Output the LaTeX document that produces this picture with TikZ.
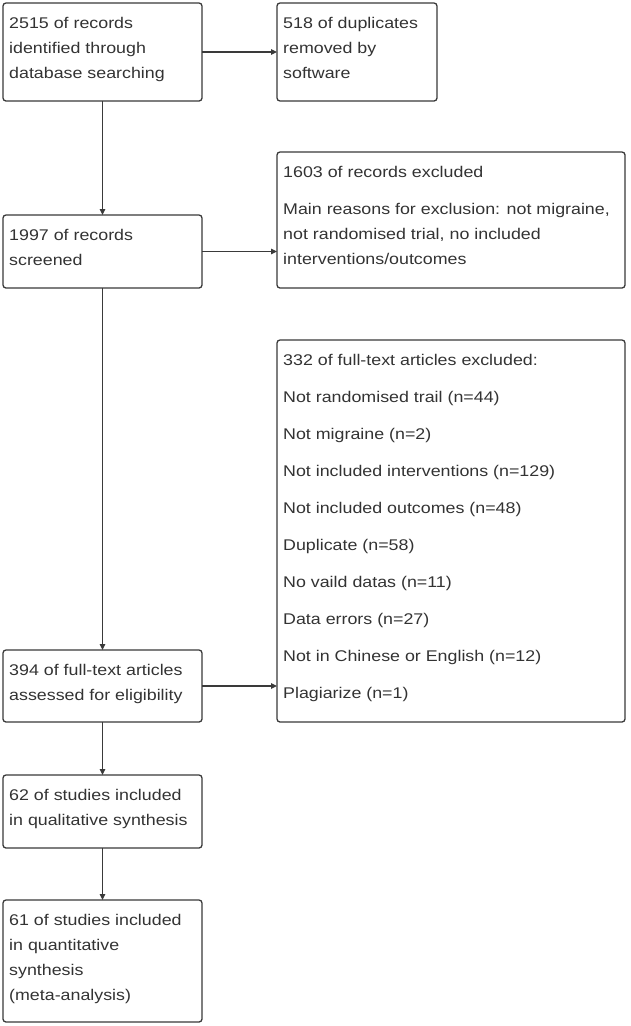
\documentclass[tikz,border=0pt]{standalone}
\usepackage{fontspec}
\setmainfont{Liberation Sans}[FakeStretch=1.15]
\usetikzlibrary{arrows.meta}
\definecolor{ln}{HTML}{3A3A3A}
\definecolor{tx}{HTML}{333333}
\newcommand{\prtext}[1]{\begin{tabular}[t]{@{}l@{}}#1\end{tabular}}
\begin{document}
\begin{tikzpicture}[x=1pt,y=-1pt,
  frame/.style={draw=ln, line width=1.3pt, rounded corners=3pt, anchor=north west, inner sep=0pt, outer sep=0pt},
  lbl/.style={anchor=base west, inner sep=0pt, text=tx, font=\fontsize{15.5}{25}\selectfont},
  arr/.style={draw=ln, line width=1.2pt, -{Triangle[length=6pt,width=5.5pt]}}]
\useasboundingbox[fill=white] (0,0) rectangle (631,1026);
\node[frame, minimum width=199pt, minimum height=98pt] (a) at (3,3) {};
\node[frame, minimum width=160pt, minimum height=98pt] (b) at (277,3) {};
\node[frame, minimum width=348pt, minimum height=136pt] (c) at (277,152) {};
\node[frame, minimum width=199pt, minimum height=73pt] (d) at (3,215) {};
\node[frame, minimum width=348pt, minimum height=382pt] (e) at (277,340) {};
\node[frame, minimum width=199pt, minimum height=72pt] (f) at (3,650) {};
\node[frame, minimum width=199pt, minimum height=73pt] (g) at (3,775) {};
\node[frame, minimum width=199pt, minimum height=122pt] (h) at (3,900) {};
\node[lbl] (ta) at ([shift={(6,25)}]a.north west) {\prtext{2515 of records\\identified through\\database searching}};
\node[lbl] (tb) at ([shift={(6,25)}]b.north west) {\prtext{518 of duplicates\\removed by\\software}};
\node[lbl] (tc) at ([shift={(6,25)}]c.north west) {\prtext{1603 of records excluded\\[12pt]Main reasons for exclusion: not migraine,\\not randomised trial, no included\\interventions/outcomes}};
\node[lbl] (td) at ([shift={(6,25)}]d.north west) {\prtext{1997 of records\\screened}};
\node[lbl] (te) at ([shift={(6,25)}]e.north west) {\prtext{332 of full-text articles excluded:\\[12pt]Not randomised trail (n=44)\\[12pt]Not migraine (n=2)\\[12pt]Not included interventions (n=129)\\[12pt]Not included outcomes (n=48)\\[12pt]Duplicate (n=58)\\[12pt]No vaild datas (n=11)\\[12pt]Data errors (n=27)\\[12pt]Not in Chinese or English (n=12)\\[12pt]Plagiarize (n=1)}};
\node[lbl] (tf) at ([shift={(6,25)}]f.north west) {\prtext{394 of full-text articles\\assessed for eligibility}};
\node[lbl] (tg) at ([shift={(6,25)}]g.north west) {\prtext{62 of studies included\\in qualitative synthesis}};
\node[lbl] (th) at ([shift={(6,25)}]h.north west) {\prtext{61 of studies included\\in quantitative\\synthesis\\(meta-analysis)}};
\draw[arr] (a.south) -- (d.north);
\draw[arr] (d.south) -- (f.north);
\draw[arr] (f.south) -- (g.north);
\draw[arr] (g.south) -- (h.north);
\draw[arr] (a.east) -- (b.west);
\draw[arr] (d.east) -- (d.east -| c.west);
\draw[arr, line width=1.9pt] (f.east) -- (f.east -| e.west);
\end{tikzpicture}
\end{document}
